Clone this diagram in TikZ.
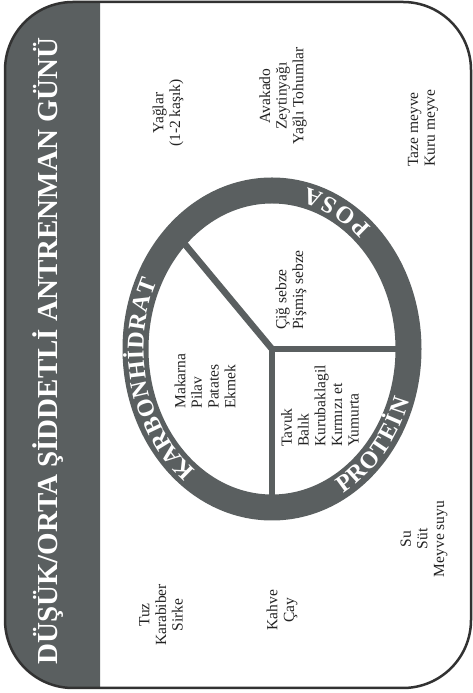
\documentclass[tikz,border=0pt]{standalone}
\usepackage{fontspec}
\setmainfont{Liberation Serif}
\definecolor{bandgrey}{RGB}{90,95,96}
\definecolor{framecol}{RGB}{50,50,50}
\definecolor{txtcol}{RGB}{35,35,35}
\newcommand\ringfnt{\fontsize{24}{24}\selectfont\bfseries}
\begin{document}
\begin{tikzpicture}[x=1pt,y=1pt,
  lbl/.style={rotate=90, font=\fontsize{15.5}{16.7}\selectfont, inner sep=0pt, text=txtcol},
  divider/.style={draw=bandgrey, line width=6.5pt},
  ringstyle/.style={draw=bandgrey, line width=26pt},
  ringletter/.style={anchor=base, inner sep=0pt, text=white, font=\ringfnt}
]
\useasboundingbox (0,0) rectangle (473,693);
% title band
\begin{scope}
  \clip[rounded corners=68pt] (5,5) rectangle (471,691);
  \fill[bandgrey, rounded corners=12pt] (-30,-10) rectangle (100,703);
\end{scope}
\draw[framecol, line width=2.5pt, rounded corners=68pt] (5,5) rectangle (471,691);
\node[rotate=90, anchor=base, text=white, inner sep=0pt, font=\fontsize{29}{29}\selectfont\bfseries] (title) at (57,342) {DÜŞÜK/ORTA ŞİDDETLİ ANTRENMAN GÜNÜ};

% pie
\coordinate (c) at (272,344);
\coordinate (jr) at (408.5,344);
\coordinate (jd) at (272,185.5);
\coordinate (ju) at (177.2,458.0);
\draw[divider, line cap=round] (c) -- (jr);
\draw[divider, line cap=round] (c) -- (jd);
\draw[divider, line cap=round] (c) -- (ju);
\draw[ringstyle] (c) ellipse [x radius=136.5pt, y radius=158.5pt];

% ring letters: tops outward (clockwise)
\foreach \ch/\t [count=\i] in {K/229.9, A/222.7, R/215.8, B/209.2, O/202.3, N/195.1, H/187.9, İ/182.3, D/177.0, R/170.1, A/163.2, T/156.5} {
  \pgfmathsetmacro\rot{atan2(-150.5*cos(\t), 128.5*sin(\t))}
  \node[ringletter, rotate=\rot] (karb\i) at ([shift={(c)}]\t:128.5pt and 150.5pt) {\ch};
}
% ring letters: tops inward (counterclockwise)
\foreach \ch/\t [count=\i] in {P/-57.5, R/-51.3, O/-44.3, T/-37.6, E/-31.3, İ/-26.3, N/-21.0} {
  \pgfmathsetmacro\rot{atan2(166.5*cos(\t), -144.5*sin(\t))}
  \node[ringletter, rotate=\rot] (prot\i) at ([shift={(c)}]\t:144.5pt and 166.5pt) {\ch};
}
\foreach \ch/\t [count=\i] in {P/49.5, O/57.4, S/65.1, A/72.5} {
  \pgfmathsetmacro\rot{atan2(166.5*cos(\t), -144.5*sin(\t))}
  \node[ringletter, rotate=\rot] (posa\i) at ([shift={(c)}]\t:144.5pt and 166.5pt) {\ch};
}

% labels
\node[lbl, align=center] (yag) at (168,580) {Yağlar\\(1-2 kaşık)};
\node[lbl, align=center] (avk) at (283,597) {Avakado\\Zeytinyağı\\Yağlı Tohumlar};
\node[lbl, align=left] (taze) at (423,565) {Taze meyve\\Kuru meyve};
\node[lbl, align=left] (cig) at (291,403) {Çiğ sebze\\Pişmiş sebze};
\node[lbl, align=left] (mak) at (205,312) {Makarna\\Pilav\\Patates\\Ekmek};
\node[lbl, align=left] (tav) at (320,287) {Tavuk\\Balık\\Kurubaklagil\\Kırmızı et\\Yumurta};
\node[lbl, align=center] (tuz) at (161,78) {Tuz\\Karabiber\\Sirke};
\node[lbl, align=center] (kah) at (282,83) {Kahve\\Çay};
\node[lbl, align=center] (su) at (424,154) {Su\\Süt\\Meyve suyu};
\end{tikzpicture}
\end{document}
